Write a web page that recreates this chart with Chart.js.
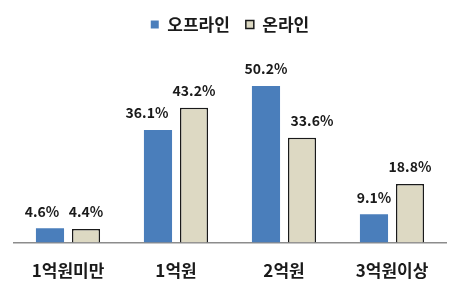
<!DOCTYPE html>
<html>
<head>
<meta charset="utf-8">
<script src="https://cdn.jsdelivr.net/npm/chart.js@4"></script>
<style>
  html, body { margin: 0; padding: 0; background: #fff; }
  #wrap { width: 468px; height: 295px; }
</style>
</head>
<body>
<div id="wrap"><canvas id="chart" width="468" height="295"></canvas></div>
<script>
const categories = ['1억원미만', '1억원', '2억원', '3억원이상'];
const offline = [4.6, 36.1, 50.2, 9.1];
const online = [4.4, 43.2, 33.6, 18.8];
const seriesNames = ['오프라인', '온라인'];

const FONT = '"Noto Sans CJK KR", "Noto Sans", sans-serif';

// 막대 위에 값 표시 (원본처럼 일부 라벨은 옆으로 살짝 밀림)
const valueLabels = {
    id: 'valueLabels',
    afterDatasetsDraw(chart, args, opts) {
        const ctx = chart.ctx;
        ctx.save();
        ctx.font = 'bold 14px ' + FONT;
        ctx.fillStyle = '#1a1a1a';
        ctx.textAlign = 'center';
        ctx.textBaseline = 'bottom';
        chart.data.datasets.forEach((ds, i) => {
            chart.getDatasetMeta(i).data.forEach((bar, j) => {
                const dx = (opts.shift[i] || [])[j] || 0;
                ctx.fillText(ds.data[j].toFixed(1) + '%', bar.x + dx, bar.y - 10);
            });
        });
        ctx.restore();
    }
};

new Chart(document.getElementById('chart').getContext('2d'), {
    type: 'bar',
    data: {
        labels: categories,
        datasets: [{
            label: seriesNames[0],
            data: offline,
            backgroundColor: '#4A7EBB',
            borderWidth: 0
        }, {
            label: seriesNames[1],
            data: online,
            backgroundColor: '#DDD9C3',
            borderColor: '#1a1a1a',
            borderWidth: 1.5
        }]
    },
    options: {
        responsive: false,
        animation: false,
        categoryPercentage: 0.667,
        barPercentage: 0.78,
        layout: { padding: { left: 14, right: 22, top: 0, bottom: -4 } },
        plugins: {
            legend: {
                position: 'top',
                labels: {
                    font: { family: FONT, size: 17, weight: 'bold' },
                    color: '#1a1a1a',
                    boxWidth: 8,
                    boxHeight: 8,
                    padding: 16
                }
            },
            tooltip: { enabled: false },
            valueLabels: {
                shift: [[-8, -11, 0, 0], [0, 0, 10, 0]]
            }
        },
        scales: {
            x: {
                grid: { display: false, drawTicks: false },
                border: { color: '#8c8c8c', width: 1.5 },
                ticks: {
                    font: { family: FONT, size: 17, weight: 'bold' },
                    color: '#1a1a1a',
                    padding: 18
                }
            },
            y: {
                display: false,
                min: 0,
                max: 64
            }
        }
    },
    plugins: [valueLabels]
});
</script>
</body>
</html>
